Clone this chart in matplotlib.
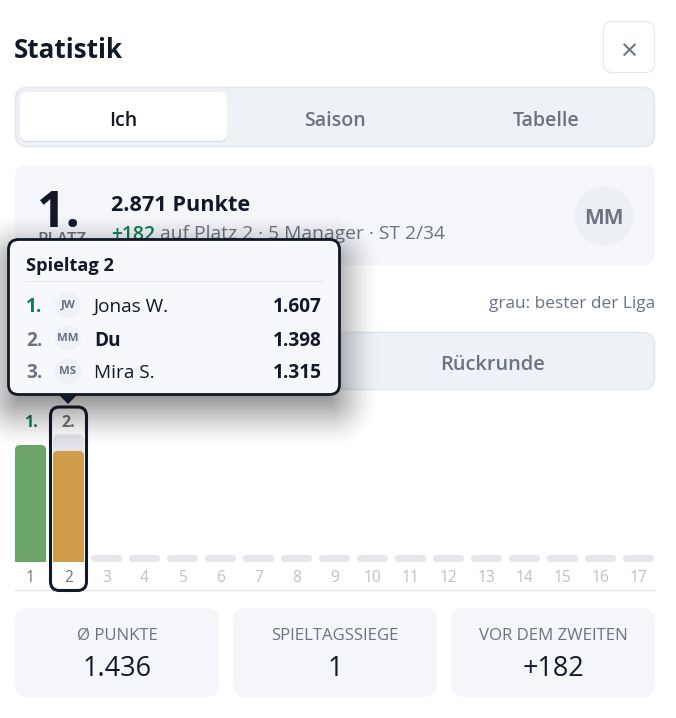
#!/usr/bin/env python3
import matplotlib

matplotlib.use("Agg")
import matplotlib.pyplot as plt
import numpy as np
from matplotlib.patches import Circle, FancyBboxPatch, Polygon

INK = "#111827"
GRAY = "#6b7280"
GREEN = "#0f7a55"
CARD = "#f4f6fa"
TAB_BG = "#eef1f6"
LINE = "#e5e7eb"

days = list(range(1, 18))
played_days = [1, 2]
my_points = [1473, 1398]
best_points = [1473, 1607]
day_ranks = ["1.", "2."]
rank_colors = [GREEN, GRAY]
bar_colors = ["#6aa567", "#cf9d4a"]
empty_days = days[2:]
empty_value = 88

tabs = ["Ich", "Saison", "Tabelle"]
tab_x = [123, 335, 546]

tip_ranks = ["1.", "2.", "3."]
tip_initials = ["JW", "MM", "MS"]
tip_names = ["Jonas W.", "Du", "Mira S."]
tip_points = ["1.607", "1.398", "1.315"]
tip_rank_colors = [GREEN, GRAY, GRAY]
tip_y = [305, 338, 371]

stat_labels = ["Ø PUNKTE", "SPIELTAGSSIEGE", "VOR DEM ZWEITEN"]
stat_values = ["1.436", "1", "+182"]
stat_left = [15, 233, 451]

plt.rcParams["font.family"] = ["Open Sans", "DejaVu Sans"]


def px(size):
  return size * 0.72


def pixel_axes(fig, zorder):
  ax = fig.add_axes([0, 0, 1, 1], zorder=zorder)
  ax.set_xlim(0, 676)
  ax.set_ylim(718, 0)
  ax.axis("off")
  return ax


def rbox(ax, x0, y0, x1, y1, radius, face, edge="none", lw=0, zorder=1):
  box = FancyBboxPatch(
    (x0, y0), x1 - x0, y1 - y0,
    boxstyle=f"round,pad=0,rounding_size={radius}",
    facecolor=face, edgecolor=edge, linewidth=lw, zorder=zorder,
  )
  ax.add_patch(box)
  return box


def label(ax, x, y, text, size, color=INK, weight="normal", ha="left", zorder=5):
  return ax.text(x, y, text, fontsize=px(size), color=color, fontweight=weight,
                 ha=ha, va="center_baseline", zorder=zorder)


def round_bars(bars, chart, page, radius, both_ends=False):
  # clip the plain bar rectangles to a rounded box in page pixels
  to_page = chart.transData + page.transData.inverted()
  for bar in bars:
    x0, y1 = to_page.transform((bar.get_x(), bar.get_y()))
    x1, y0 = to_page.transform((bar.get_x() + bar.get_width(), bar.get_y() + bar.get_height()))
    if not both_ends:
      y1 += radius + 2
    clip = FancyBboxPatch(
      (x0, y0), x1 - x0, y1 - y0,
      boxstyle=f"round,pad=0,rounding_size={radius}",
      transform=page.transData,
    )
    bar.set_clip_path(clip)


def draw_shadow(ax, x0, y0, x1, y1, radius, offset, blur, strength):
  xs = np.arange(0, 676) + 0.5
  ys = np.arange(0, 718) + 0.5
  gx, gy = np.meshgrid(xs, ys)
  cx, cy = (x0 + x1) / 2, (y0 + y1) / 2 + offset
  qx = np.abs(gx - cx) - ((x1 - x0) / 2 - radius)
  qy = np.abs(gy - cy) - ((y1 - y0) / 2 - radius)
  dist = np.hypot(np.maximum(qx, 0), np.maximum(qy, 0)) + np.minimum(np.maximum(qx, qy), 0) - radius
  t = np.clip(0.5 - dist / (2 * blur), 0, 1)
  alpha = strength * t * t * (3 - 2 * t)
  rgba = np.zeros((718, 676, 4))
  rgba[..., :3] = 0.06
  rgba[..., 3] = alpha
  ax.imshow(rgba, extent=(0, 676, 718, 0), origin="upper", aspect="auto", zorder=1, interpolation="nearest")
  ax.set_xlim(0, 676)
  ax.set_ylim(718, 0)


fig = plt.figure(figsize=(6.76, 7.18), dpi=100, facecolor="white")
page = pixel_axes(fig, 0)

# header
label(page, 14, 48, "Statistik", 26, weight="bold")
rbox(page, 603.5, 21.5, 654.5, 72.5, 9, "white", LINE, 0.8)
label(page, 629, 49, "×", 30, color=GRAY, ha="center")

# top tabs
rbox(page, 15.5, 87.5, 654.5, 146.5, 12, TAB_BG, "#e4e8ee", 1.2)
rbox(page, 20, 93, 227, 142, 8, "#d5d9e0", zorder=2)
rbox(page, 20, 92, 227, 141, 8, "white", zorder=3)
for i, (name, x) in enumerate(zip(tabs, tab_x)):
  label(page, x, 118, name, 19.5, color=INK if i == 0 else GRAY, weight="semibold", ha="center")

# summary card
rbox(page, 15, 165, 655, 265, 12, CARD)
label(page, 37, 208, "1.", 50, weight="bold")
label(page, 62, 238, "PLATZ", 17, color=GRAY, weight="semibold", ha="center")
label(page, 111, 203, "2.871 Punkte", 21.7, weight="bold")
label(page, 111, 232, "+182", 19.3, color=GREEN, weight="semibold")
label(page, 160, 232, "auf Platz 2 · 5 Manager · ST 2/34", 19.3, color=GRAY)
page.add_patch(Circle((604, 216), 29.5, facecolor="#eceff4", edgecolor="none", zorder=3))
label(page, 604, 216, "MM", 21, color=GRAY, weight="bold", ha="center")

# chart controls
label(page, 655, 302, "grau: bester der Liga", 17.3, color=GRAY, ha="right")
rbox(page, 15.5, 332.5, 654.5, 389.5, 12, TAB_BG, "#e4e8ee", 1.2)
label(page, 493, 362, "Rückrunde", 20, color=GRAY, weight="semibold", ha="center")

# stat cards
for left, name, value in zip(stat_left, stat_labels, stat_values):
  rbox(page, left, 608, left + 204, 697, 13, CARD)
  label(page, left + 102, 634, name, 16.8, color=GRAY, ha="center")
  label(page, left + 102, 666, value, 27, ha="center")

# bars, one value unit is 111 px / 1398
chart = fig.add_axes([15 / 676, 1 - 590 / 718, 640 / 676, 180 / 718], zorder=1)
chart.patch.set_alpha(0)
chart.set_xlim(1 - 15.5 / 38, 17 + 16.5 / 38)
chart.set_ylim(-28 * 1398 / 111, 152 * 1398 / 111)
for name in ["top", "left", "right"]:
  chart.spines[name].set_visible(False)
chart.spines["bottom"].set_color(LINE)
chart.spines["bottom"].set_linewidth(1.0)
chart.set_yticks([])
chart.set_xticks(days, [str(d) for d in days])
chart.tick_params(axis="x", length=0, pad=-14.5, labelsize=px(15.5), labelcolor="#bcc0c7")
for tick in chart.get_xticklabels()[:2]:
  tick.set_color(GRAY)

bar_width = 31 / 38
round_bars(chart.bar(played_days, best_points, width=bar_width, color="#e2e4e9", zorder=1), chart, page, 5)
round_bars(chart.bar(played_days, my_points, width=bar_width, color=bar_colors, zorder=2), chart, page, 5)
round_bars(chart.bar(empty_days, [empty_value] * len(empty_days), width=bar_width, color="#e5e7eb", zorder=1),
           chart, page, 3.5, both_ends=True)
for day, rank, color in zip(played_days, day_ranks, rank_colors):
  chart.annotate(rank, (day, 0), xytext=(0, px(141)), textcoords="offset points", ha="center", va="center_baseline",
                 fontsize=px(16), fontweight="bold", color=color)

# tooltip on top of everything
top = pixel_axes(fig, 2)
rbox(top, 50.5, 407, 86.5, 590.5, 9, "none", INK, 2.2, zorder=0.5)
draw_shadow(top, 8, 239, 340, 395, 10, 14, 42, 0.6)
top.add_patch(Polygon([(59, 395), (77, 395), (68, 404)], facecolor=INK, edgecolor="none", zorder=2))
rbox(top, 8.5, 239.5, 339.5, 394.5, 10, "#f6f8fb", INK, 2, zorder=3)
label(top, 26, 264, "Spieltag 2", 18.3, weight="bold")
top.plot([26, 322], [280.5, 280.5], color=LINE, lw=0.8, zorder=4)
for i, y in enumerate(tip_y):
  label(top, 26, y, tip_ranks[i], 19, color=tip_rank_colors[i], weight="bold")
  top.add_patch(Circle((68, y), 13, facecolor="#eef1f6", edgecolor="none", zorder=4))
  label(top, 68, y - 1, tip_initials[i], 11.5, color=GRAY, weight="bold", ha="center")
  label(top, 94, y, tip_names[i], 19, weight="bold" if i == 1 else "normal", color=INK)
  label(top, 322, y, tip_points[i], 19, weight="bold", ha="right")

fig.savefig("out.png", dpi=100, facecolor="white")
plt.close(fig)
